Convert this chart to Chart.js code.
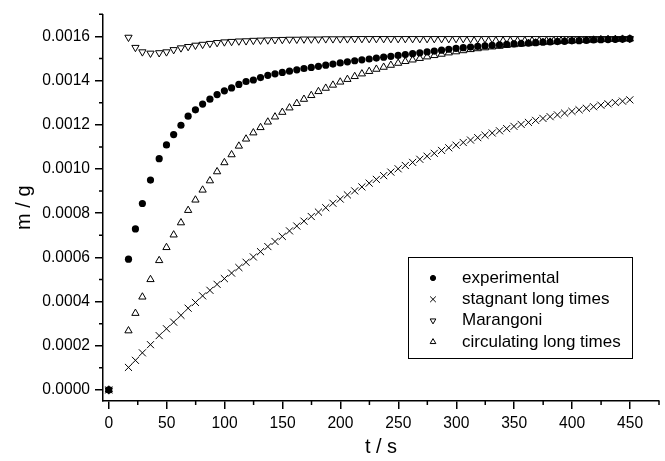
<!DOCTYPE html>
<html>
<head>
<meta charset="utf-8">
<script src="https://cdn.jsdelivr.net/npm/chart.js@4.4.0/dist/chart.umd.min.js"></script>
<style>
html, body { margin: 0; padding: 0; background: #fff; }
</style>
</head>
<body>
<canvas id="chart" width="665" height="461"></canvas>
<script>
// time grid shared by all series (s)
const times = [0, 17, 23, 29, 36, 43.5, 49.8, 56, 62.3, 68.5, 74.8, 81, 87.3, 93.5, 99.8, 106, 112.3, 118.5, 124.8, 131, 137.3,
  143.5, 149.8, 156, 162.3, 168.5, 174.8, 181, 187.3, 193.5, 199.8, 206, 212.3, 218.5, 224.8, 231, 237.3, 243.5, 249.8,
  256, 262.3, 268.5, 274.8, 281, 287.3, 293.5, 299.8, 306, 312.3, 318.5, 324.8, 331, 337.3, 343.5, 349.8, 356, 362.3,
  368.5, 374.8, 381, 387.3, 393.5, 399.8, 406, 412.3, 418.5, 424.8, 431, 437.3, 443.5, 449.8];

// m / g
const experimental = [0, 0.000592, 0.000729, 0.000844, 0.00095, 0.001047, 0.001109, 0.001156, 0.001198, 0.001239, 0.001268,
  0.001294, 0.001316, 0.001337, 0.001354, 0.001367, 0.001383, 0.001396, 0.001403, 0.001414, 0.001424, 0.001431, 0.001437,
  0.001443, 0.001449, 0.001455, 0.00146, 0.001465, 0.00147, 0.001475, 0.00148, 0.001485, 0.00149, 0.001494, 0.001498,
  0.001502, 0.001506, 0.00151, 0.001514, 0.001518, 0.001522, 0.001526, 0.00153, 0.001534, 0.001538, 0.001542, 0.001546,
  0.001549, 0.001552, 0.001555, 0.001558, 0.00156, 0.001562, 0.001564, 0.001566, 0.001568, 0.00157, 0.001572, 0.001574,
  0.001575, 0.001577, 0.001578, 0.00158, 0.001581, 0.001582, 0.001584, 0.001585, 0.001586, 0.001587, 0.001588, 0.00159];

const stagnant = [0, 0.000102, 0.000134, 0.000168, 0.000205, 0.000246, 0.000277, 0.000307, 0.000338, 0.00037, 0.000396,
  0.000426, 0.000451, 0.000478, 0.000504, 0.000529, 0.000554, 0.000578, 0.000602, 0.000626, 0.000649, 0.000672, 0.000695,
  0.00072, 0.000742, 0.000764, 0.000785, 0.000805, 0.000825, 0.000845, 0.000864, 0.000883, 0.000901, 0.000919, 0.000936,
  0.000953, 0.00097, 0.000986, 0.001001, 0.001016, 0.00103, 0.001044, 0.001058, 0.001071, 0.001084, 0.001096, 0.001108,
  0.00112, 0.001131, 0.001142, 0.001153, 0.001163, 0.001173, 0.001183, 0.001193, 0.001202, 0.001211, 0.00122, 0.001229,
  0.001237, 0.001245, 0.001253, 0.001261, 0.001268, 0.001275, 0.001282, 0.001289, 0.001295, 0.001301, 0.001307, 0.001313];

const marangoni = [0, 0.001596, 0.00155, 0.00153, 0.001524, 0.001526, 0.00153, 0.00154, 0.001548, 0.001554, 0.00156,
  0.001564, 0.001568, 0.001572, 0.001575, 0.001577, 0.001579, 0.00158, 0.001582, 0.001583, 0.001584, 0.001585, 0.001586,
  0.001587, 0.001587, 0.001588, 0.001588, 0.001588, 0.001589, 0.001589, 0.001589, 0.001589, 0.00159, 0.00159, 0.00159,
  0.00159, 0.00159, 0.00159, 0.00159, 0.00159, 0.00159, 0.00159, 0.00159, 0.00159, 0.00159, 0.00159, 0.00159,
  0.00159, 0.00159, 0.00159, 0.00159, 0.00159, 0.00159, 0.00159, 0.00159, 0.00159, 0.00159, 0.00159, 0.00159,
  0.00159, 0.00159, 0.00159, 0.00159, 0.00159, 0.00159, 0.00159, 0.00159, 0.00159, 0.00159, 0.00159, 0.00159];

const circulating = [0, 0.000268, 0.000347, 0.000421, 0.0005, 0.000586, 0.000645, 0.000702, 0.000757, 0.000813, 0.00086,
  0.000905, 0.000947, 0.000988, 0.001029, 0.001065, 0.001104, 0.001136, 0.001164, 0.001188, 0.001213, 0.001236, 0.001257,
  0.001277, 0.001297, 0.001316, 0.001333, 0.001351, 0.001366, 0.00138, 0.001394, 0.001406, 0.001419, 0.001431, 0.001442,
  0.001452, 0.001461, 0.00147, 0.001479, 0.001487, 0.001494, 0.001501, 0.001508, 0.001514, 0.00152, 0.001526, 0.001531,
  0.001536, 0.001541, 0.001545, 0.001549, 0.001553, 0.001556, 0.00156, 0.001563, 0.001566, 0.001568, 0.001571, 0.001573,
  0.001575, 0.001577, 0.001579, 0.00158, 0.001582, 0.001583, 0.001584, 0.001586, 0.001587, 0.001587, 0.001588, 0.001589];

const seriesNames = ['experimental', 'stagnant long times', 'Marangoni', 'circulating long times'];

// axis ticks
const xMajor = [0, 50, 100, 150, 200, 250, 300, 350, 400, 450];
const xMinor = [25, 75, 125, 175, 225, 275, 325, 375, 425, 475];
const yMajor = [0, 0.0002, 0.0004, 0.0006, 0.0008, 0.001, 0.0012, 0.0014, 0.0016];
const yMinor = [0.0001, 0.0003, 0.0005, 0.0007, 0.0009, 0.0011, 0.0013, 0.0015, 0.0017];

const FONT = '"Liberation Sans", Arial, Helvetica, sans-serif';

function toPoints(vals) {
  return vals.map((v, i) => ({ x: times[i], y: v }));
}

// minor ticks and the boxed legend
const extras = {
  id: 'extras',
  afterDraw(chart) {
    const ctx = chart.ctx;
    const xs = chart.scales.x, ys = chart.scales.y;
    const area = chart.chartArea;
    ctx.save();
    ctx.strokeStyle = '#000';
    ctx.lineWidth = 1.5;
    ctx.beginPath();
    xMinor.forEach(v => {
      const px = xs.getPixelForValue(v);
      ctx.moveTo(px, area.bottom);
      ctx.lineTo(px, area.bottom + 4);
    });
    yMinor.forEach(v => {
      const py = ys.getPixelForValue(v);
      ctx.moveTo(area.left, py);
      ctx.lineTo(area.left - 4, py);
    });
    ctx.stroke();

    // legend
    ctx.lineWidth = 1;
    ctx.strokeRect(408.5, 257.5, 224, 101);
    const marks = [
      { pointStyle: 'circle', radius: 2.6, rotation: 0, fill: '#000' },
      { pointStyle: 'crossRot', radius: 4, rotation: 0, fill: 'rgba(0,0,0,0)' },
      { pointStyle: 'triangle', radius: 3.3, rotation: 180, fill: 'rgba(0,0,0,0)' },
      { pointStyle: 'triangle', radius: 3.3, rotation: 0, fill: 'rgba(0,0,0,0)' }
    ];
    ctx.font = '17px ' + FONT;
    ctx.textBaseline = 'middle';
    ctx.textAlign = 'left';
    seriesNames.forEach((name, i) => {
      const y = 278 + i * 21.3;
      ctx.fillStyle = marks[i].fill;
      ctx.strokeStyle = '#000';
      ctx.lineWidth = 1;
      Chart.helpers.drawPoint(ctx, { pointStyle: marks[i].pointStyle, radius: marks[i].radius, rotation: marks[i].rotation, borderWidth: 1 }, 433, y);
      ctx.fillStyle = '#000';
      ctx.fillText(name, 462, y);
    });
    ctx.restore();
  }
};

const config = {
  type: 'scatter',
  data: {
    datasets: [
      { label: seriesNames[0], data: toPoints(experimental), pointStyle: 'circle', pointRadius: 3.6,
        backgroundColor: '#000', borderColor: '#000', borderWidth: 0 },
      { label: seriesNames[1], data: toPoints(stagnant), pointStyle: 'crossRot', pointRadius: 5,
        backgroundColor: 'rgba(0,0,0,0)', borderColor: '#000', borderWidth: 1 },
      { label: seriesNames[2], data: toPoints(marangoni), pointStyle: 'triangle', pointRotation: 180, pointRadius: 4.2,
        backgroundColor: 'rgba(0,0,0,0)', borderColor: '#000', borderWidth: 1 },
      { label: seriesNames[3], data: toPoints(circulating), pointStyle: 'triangle', pointRadius: 4.2,
        backgroundColor: 'rgba(0,0,0,0)', borderColor: '#000', borderWidth: 1 }
    ]
  },
  options: {
    responsive: false,
    animation: false,
    devicePixelRatio: 1,
    layout: { padding: { left: 0, right: 5, top: 11, bottom: 0 } },
    plugins: { legend: { display: false }, tooltip: { enabled: false } },
    scales: {
      x: {
        type: 'linear',
        min: -5,
        max: 475,
        afterBuildTicks: s => { s.ticks = xMajor.map(v => ({ value: v })); },
        afterFit: s => { s.height = 60; },
        grid: { display: true, drawOnChartArea: false, drawTicks: true, tickLength: 8, color: '#000', lineWidth: 1.5 },
        border: { display: true, color: '#000', width: 1.5 },
        ticks: { color: '#000', padding: 5, maxRotation: 0, font: { family: FONT, size: 15.6 } },
        title: { display: true, text: 't / s', color: '#000', font: { family: FONT, size: 20 }, padding: { top: 0, bottom: 2 } }
      },
      y: {
        type: 'linear',
        min: -0.00005,
        max: 0.0017,
        afterBuildTicks: s => { s.ticks = yMajor.map(v => ({ value: v })); },
        afterFit: s => { s.width = 103; },
        grid: { display: true, drawOnChartArea: false, drawTicks: true, tickLength: 8, color: '#000', lineWidth: 1.5 },
        border: { display: true, color: '#000', width: 1.5 },
        ticks: { color: '#000', padding: 5, callback: v => v.toFixed(4), font: { family: FONT, size: 15.6 } },
        title: { display: true, text: 'm / g', color: '#000', font: { family: FONT, size: 20 }, padding: { top: 12, bottom: 0 } }
      }
    }
  },
  plugins: [extras]
};

new Chart(document.getElementById('chart'), config);
</script>
</body>
</html>
